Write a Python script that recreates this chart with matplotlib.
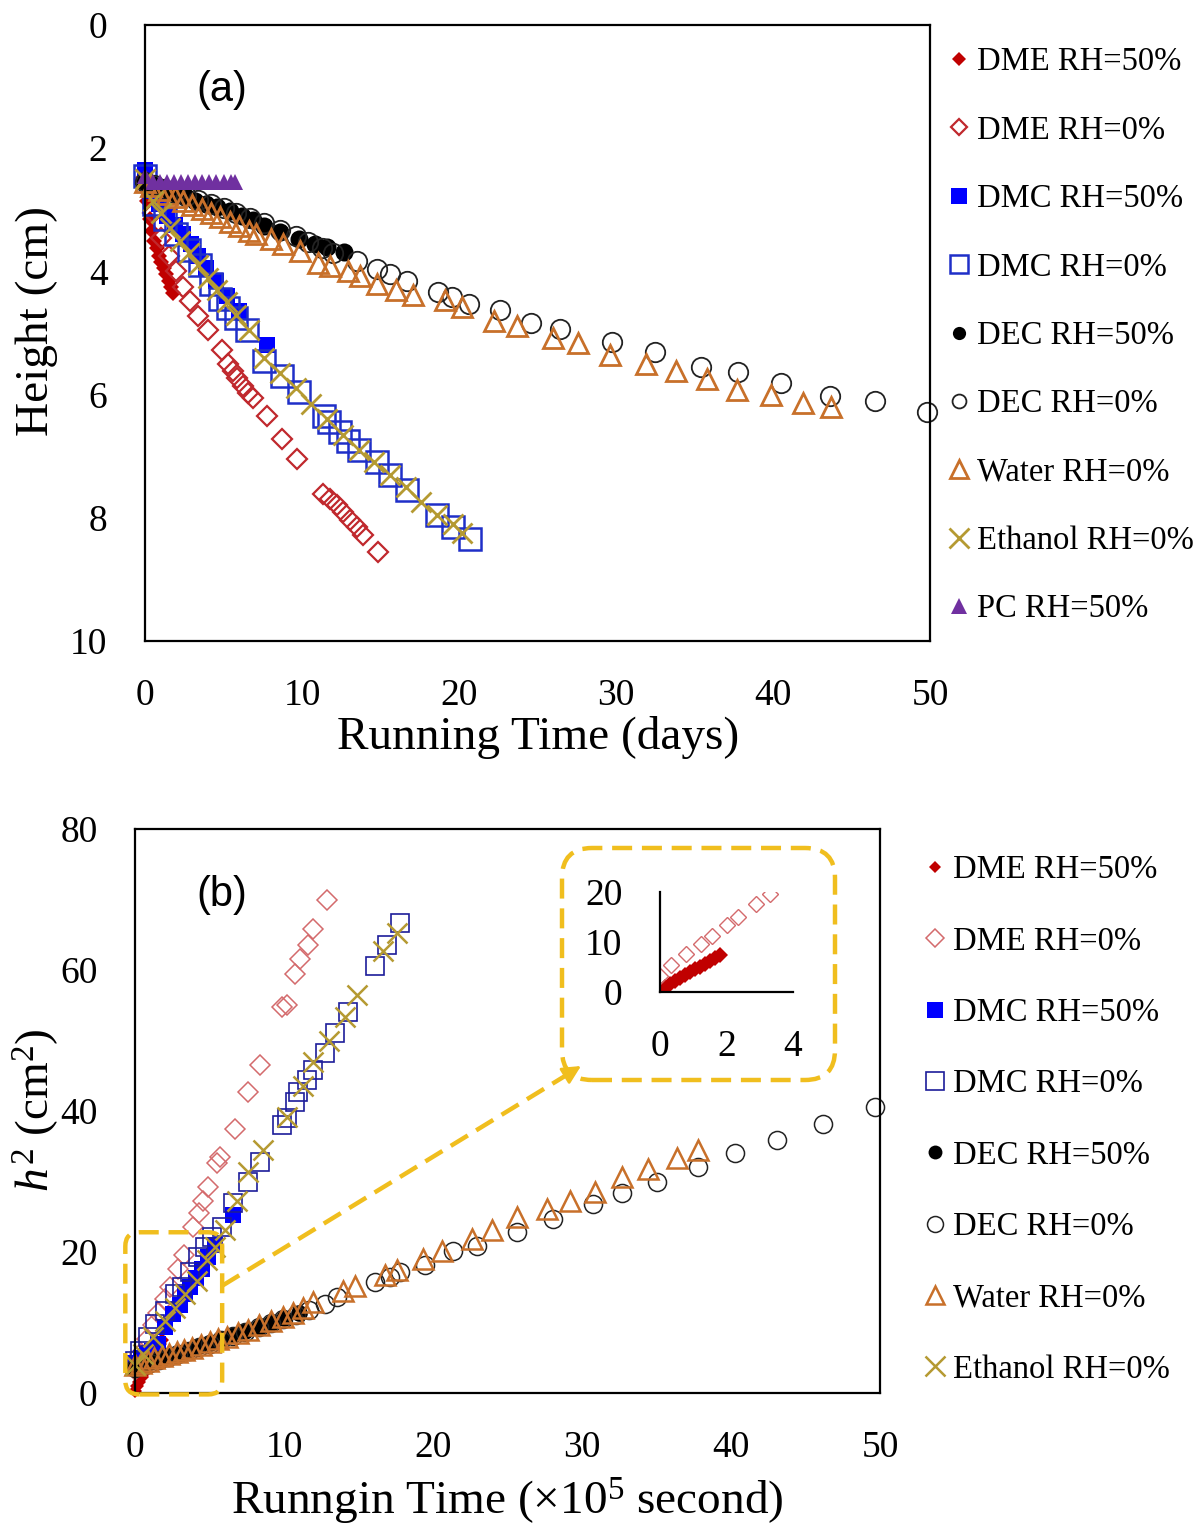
import matplotlib
matplotlib.use('Agg')
import matplotlib.pyplot as plt
from matplotlib.patches import FancyBboxPatch, FancyArrowPatch
from matplotlib.lines import Line2D
from matplotlib.transforms import IdentityTransform

plt.rcParams['font.family'] = ['Liberation Serif', 'DejaVu Serif']
plt.rcParams['mathtext.fontset'] = 'custom'
plt.rcParams['mathtext.rm'] = 'Liberation Serif'
plt.rcParams['mathtext.it'] = 'Liberation Serif:italic'

# ---------------- Panel (a): height (cm) vs running time (days) ----------------
dme50_t = [0, 0.15, 0.3, 0.45, 0.6, 0.75, 0.9, 1.05, 1.2, 1.35, 1.5, 1.65, 1.8]
dme50_h = [2.5, 2.85, 3.15, 3.35, 3.5, 3.62, 3.75, 3.85, 3.95, 4.05, 4.15, 4.25, 4.35]

dme0_t = [0, 0.5, 1.0, 1.5, 2.0, 2.4, 2.87, 3.40, 4.03, 4.88, 5.31, 5.63, 5.84, 6.26, 6.58, 6.90,
          7.75, 8.70, 9.66, 11.36, 11.78, 12.21, 12.63, 13.06, 13.48, 13.91, 14.86]
dme0_h = [2.5, 3.05, 3.45, 3.75, 4.0, 4.25, 4.48, 4.73, 4.95, 5.27, 5.51, 5.62, 5.73, 5.86, 5.97, 6.05,
          6.34, 6.72, 7.04, 7.61, 7.69, 7.80, 7.90, 8.04, 8.15, 8.28, 8.55]

dmc50_t = [0, 0.4, 0.9, 1.4, 1.9, 2.4, 2.9, 3.4, 3.9, 4.5, 5.2, 6.0, 7.8]
dmc50_h = [2.35, 2.7, 2.9, 3.1, 3.25, 3.4, 3.55, 3.75, 3.95, 4.15, 4.4, 4.65, 5.2]

dmc0_t = [0, 0.6, 1.3, 2.0, 2.8, 3.5, 4.2, 4.8, 5.3, 5.8, 6.5, 7.6, 8.7, 9.8, 11.4, 11.7, 12.4,
          12.9, 13.6, 14.8, 15.6, 16.7, 18.6, 19.6, 20.7]
dmc0_h = [2.45, 2.9, 3.15, 3.4, 3.65, 3.9, 4.2, 4.45, 4.6, 4.75, 4.95, 5.45, 5.7, 5.95, 6.35, 6.45, 6.6,
          6.75, 6.9, 7.1, 7.3, 7.55, 7.95, 8.15, 8.35]

dec50_t = [0, 0.5, 1.0, 1.5, 2.0, 2.6, 3.2, 3.9, 4.6, 5.4, 6.2, 6.9, 7.6, 8.6, 9.8, 10.8, 11.6, 12.7]
dec50_h = [2.55, 2.6, 2.65, 2.7, 2.75, 2.8, 2.85, 2.9, 2.95, 3.02, 3.1, 3.17, 3.27, 3.36, 3.47, 3.55, 3.6, 3.68]

dec0_t = [0, 0.6, 1.2, 1.9, 2.6, 3.4, 4.2, 5.0, 5.8, 6.7, 7.6, 8.6, 9.6, 10.4, 11.25, 12.0, 13.5,
          14.76, 15.6, 16.7, 18.66, 19.53, 20.63, 22.6, 24.58, 26.44, 29.73, 32.47, 35.43, 37.74,
          40.48, 43.66, 46.5, 49.8]
dec0_h = [2.55, 2.6, 2.66, 2.72, 2.78, 2.84, 2.9, 2.97, 3.05, 3.13, 3.22, 3.32, 3.42, 3.52, 3.62, 3.7, 3.83,
          3.96, 4.05, 4.16, 4.33, 4.42, 4.53, 4.63, 4.83, 4.94, 5.14, 5.31, 5.56, 5.64,
          5.81, 6.03, 6.1, 6.28]

water_t = [0, 0.4, 0.9, 1.4, 1.9, 2.4, 3.0, 3.6, 4.2, 4.8, 5.4, 6.0, 6.6, 7.1, 8.0, 8.8, 9.9, 11.0,
           11.8, 12.9, 13.7, 14.8, 16.0, 17.1, 19.1, 20.2, 22.2, 23.7, 26.0, 27.6, 29.6, 31.9, 33.8,
           35.8, 37.7, 39.9, 41.9, 43.7]
water_h = [2.55, 2.62, 2.68, 2.74, 2.8, 2.86, 2.92, 2.98, 3.05, 3.12, 3.2, 3.27, 3.34, 3.4, 3.48, 3.56,
           3.67, 3.86, 3.91, 3.99, 4.07, 4.2, 4.31, 4.38, 4.47, 4.58, 4.8, 4.89, 5.08, 5.16, 5.36, 5.5,
           5.61, 5.75, 5.92, 6.0, 6.14, 6.2]

eth_t = [0, 0.5, 1.0, 1.6, 2.2, 2.8, 3.4, 4.0, 4.6, 5.2, 5.8, 6.6, 7.6, 8.6, 9.6, 10.6, 11.6, 12.6,
         13.6, 14.6, 15.6, 16.6, 17.6, 18.6, 19.6, 20.2]
eth_h = [2.5, 2.85, 3.05, 3.3, 3.5, 3.7, 3.9, 4.1, 4.3, 4.5, 4.7, 4.95, 5.4, 5.65, 5.9, 6.15, 6.4, 6.65,
         6.9, 7.1, 7.3, 7.5, 7.75, 7.95, 8.1, 8.25]

pc_t = [0, 0.5, 0.95, 1.4, 1.85, 2.3, 2.75, 3.2, 3.65, 4.1, 4.55, 5.0, 5.45, 5.75]
pc_h = [2.45, 2.55, 2.55, 2.55, 2.55, 2.55, 2.55, 2.55, 2.55, 2.55, 2.55, 2.55, 2.55, 2.55]

# ---------------- Panel (b): h^2 (cm^2) vs running time (x10^5 s) ----------------
dme50_bx = [0, 0.15, 0.3, 0.45, 0.6, 0.75, 0.9, 1.05, 1.2, 1.35, 1.5, 1.65, 1.8]
dme50_by = [0.3, 1.0, 1.6, 2.2, 2.8, 3.4, 4.0, 4.6, 5.1, 5.7, 6.3, 6.9, 7.5]

dme0_bx = [0, 0.34, 0.78, 1.23, 1.56, 2.0, 2.35, 2.9, 3.3, 3.9, 4.3, 4.58, 4.92, 5.48, 5.7, 6.71,
           7.6, 8.39, 9.85, 10.18, 10.74, 11.07, 11.63, 11.97, 12.87]
dme0_by = [3.2, 5.5, 7.6, 9.7, 11.3, 13.4, 15.0, 17.6, 19.6, 23.5, 25.5, 27.3, 29.2, 32.6, 33.5, 37.5,
           42.7, 46.5, 54.7, 55.1, 59.4, 61.5, 63.6, 65.8, 70.0]

dmc50_bx = [0, 0.4, 0.8, 1.12, 1.56, 2.0, 2.57, 3.0, 3.36, 3.69, 4.1, 4.47, 4.92, 5.4, 6.6]
dmc50_by = [4.2, 5.0, 5.6, 6.0, 6.9, 9.3, 11.2, 12.5, 14.0, 15.0, 16.3, 17.6, 19.3, 21.0, 25.2]

dmc0_bx = [0, 0.34, 0.89, 1.34, 2.0, 2.68, 3.13, 3.69, 4.25, 4.7, 5.15, 5.82, 6.6, 7.6, 8.39, 9.85,
           10.18, 10.74, 10.96, 11.52, 11.97, 12.75, 13.42, 14.32, 16.1, 16.89, 17.79]
dmc0_by = [4.5, 6.0, 7.9, 9.8, 11.7, 14.1, 15.0, 17.1, 19.3, 20.7, 22.1, 23.5, 26.9, 29.9, 32.8, 38.0,
           39.0, 41.3, 42.7, 44.4, 45.8, 48.2, 51.1, 54.1, 60.5, 63.6, 66.7]

dec50_bx = [0, 0.5, 1.0, 1.6, 2.2, 2.9, 3.6, 4.3, 5.0, 5.8, 6.6, 7.4, 8.3, 9.1, 10.0, 11.0]
dec50_by = [3.6, 4.0, 4.4, 4.8, 5.2, 5.6, 6.1, 6.6, 7.1, 7.6, 8.2, 8.8, 9.4, 10.0, 10.7, 11.4]

dec0_bx = [0, 0.5, 1.0, 1.6, 2.2, 2.9, 3.6, 4.3, 5.0, 5.8, 6.6, 7.4, 8.3, 9.1, 9.9, 10.8, 11.7, 12.75,
           13.53, 16.1, 17.11, 17.79, 19.46, 21.36, 22.93, 25.62, 28.07, 30.76, 32.66, 35.0, 37.8,
           40.27, 43.07, 46.2, 49.66]
dec0_by = [3.5, 3.9, 4.3, 4.7, 5.1, 5.5, 6.0, 6.5, 7.0, 7.5, 8.1, 8.7, 9.3, 9.9, 10.5, 11.1, 11.8, 12.6,
           13.6, 15.7, 16.4, 17.1, 18.1, 20.2, 20.9, 22.8, 24.7, 26.8, 28.3, 29.9, 32.1,
           34.0, 35.9, 38.2, 40.6]

water_bx = [0, 0.4, 0.9, 1.3, 1.8, 2.3, 2.8, 3.3, 3.8, 4.4, 5.0, 5.6, 6.2, 6.9, 7.6, 8.3, 9.1, 9.9,
            10.6, 11.3, 11.97, 13.98, 14.77, 16.78, 17.56, 19.35, 20.58, 22.6, 23.94, 25.62, 27.63,
            29.19, 30.87, 32.66, 34.45, 36.35, 37.8]
water_by = [4.0, 4.3, 4.6, 4.9, 5.2, 5.5, 5.8, 6.1, 6.4, 6.8, 7.2, 7.6, 8.0, 8.5, 9.0, 9.6, 10.2, 10.8,
            11.4, 12.0, 12.9, 14.5, 15.2, 16.7, 17.4, 19.0, 20.2, 21.9, 23.1, 25.0, 26.1,
            27.3, 28.5, 30.6, 31.8, 33.3, 34.5]

eth_bx = [0, 0.56, 1.23, 2.0, 2.68, 3.36, 4.14, 4.81, 5.37, 6.04, 6.82, 7.6, 8.61, 10.18, 11.3, 11.97,
          13.0, 14.09, 14.88, 16.67, 17.56]
eth_by = [4.0, 5.5, 7.9, 10.2, 12.1, 14.0, 15.9, 18.8, 20.7, 23.1, 27.3, 31.4, 34.4, 39.2, 43.5, 47.0,
          50.0, 53.4, 56.5, 62.7, 65.3]

labels_a = ["DME RH=50%", "DME RH=0%", "DMC RH=50%", "DMC RH=0%", "DEC RH=50%",
            "DEC RH=0%", "Water RH=0%", "Ethanol RH=0%", "PC RH=50%"]
labels_b = labels_a[:8]

a_xticks = [0, 10, 20, 30, 40, 50]
a_yticks = [0, 2, 4, 6, 8, 10]
b_xticks = [0, 10, 20, 30, 40, 50]
b_yticks = [0, 20, 40, 60, 80]
inset_xticks = [0, 2, 4]
inset_yticks = [0, 10, 20]

# zoomed region (data units of panel b) shown in the inset
zoom_x = (-0.65, 5.85)
zoom_y = (-0.2, 22.8)

# ---------------- styles ----------------
RED = '#C00000'
RED_O = '#C0282D'
RED_O_B = '#D46A6C'
BLUE = '#0000FF'
BLUE_O = '#1F2FC8'
BLUE_O_B = '#1C1C9A'
ORANGE = '#C8702A'
OLIVE = '#B59A32'
PURPLE = '#7030A0'
GOLD = '#F0BE1E'

styles_a = [
    dict(marker='D', color=RED, ms=8.5, mew=0),
    dict(marker='D', mfc='none', mec=RED_O, ms=10, mew=1.6),
    dict(marker='s', color=BLUE, ms=12, mew=0),
    dict(marker='s', mfc='none', mec=BLUE_O, ms=16, mew=1.8),
    dict(marker='o', color='black', ms=13, mew=0),
    dict(marker='o', mfc='none', mec='#222222', ms=14, mew=1.3),
    dict(marker='^', mfc='none', mec=ORANGE, ms=15, mew=2.0),
    dict(marker='x', color=OLIVE, ms=15, mew=2.0),
    dict(marker='^', color=PURPLE, ms=12, mew=0),
]
legend_ms_a = [7, 8, 12, 13.5, 9.5, 10, 13, 14, 12]

styles_b = [
    dict(marker='D', color=RED, ms=7, mew=0),
    dict(marker='D', mfc='none', mec=RED_O_B, ms=10.5, mew=1.1),
    dict(marker='s', color=BLUE, ms=11, mew=0),
    dict(marker='s', mfc='none', mec=BLUE_O_B, ms=13, mew=1.2),
    dict(marker='o', color='black', ms=12, mew=0),
    dict(marker='o', mfc='none', mec='#222222', ms=13, mew=1.1),
    dict(marker='^', mfc='none', mec=ORANGE, ms=15, mew=1.8),
    dict(marker='x', color=OLIVE, ms=15, mew=1.8),
]
legend_ms_b = [6.5, 9, 11.5, 13, 10, 11.5, 13, 14]

W, H = 1200, 1529
fig = plt.figure(figsize=(W / 100, H / 100), dpi=100)

TICK_FS = 27
LAB_FS = 34
LEG_FS = 23.5

def style_axes(ax):
    for s in ax.spines.values():
        s.set_linewidth(1.6)
        s.set_color('black')
    ax.tick_params(length=0, labelsize=TICK_FS, pad=27)

def make_legend(handles, labels, anchor, spacing, sizes):
    leg = fig.legend(handles, labels, loc='upper left', bbox_to_anchor=anchor,
                     frameon=False, fontsize=LEG_FS, markerscale=1.0, handlelength=0.7,
                     handletextpad=0.2, labelspacing=spacing, borderpad=0, borderaxespad=0,
                     numpoints=1)
    for lh, ms in zip(leg.legend_handles, sizes):
        lh.set_markersize(ms)
    return leg

# ---------------- Panel (a) ----------------
axA = fig.add_axes([145 / W, 1 - 641 / H, 785 / W, 616 / H])
series_a = [(dme50_t, dme50_h), (dme0_t, dme0_h), (dmc50_t, dmc50_h), (dmc0_t, dmc0_h),
            (dec50_t, dec50_h), (dec0_t, dec0_h), (water_t, water_h), (eth_t, eth_h), (pc_t, pc_h)]
handles_a = []
for (x, y), st in zip(series_a, styles_a):
    ln, = axA.plot(x, y, linestyle='none', clip_on=False, **st)
    handles_a.append(ln)
axA.set_xlim(0, 50)
axA.set_ylim(10, 0)
axA.set_xticks(a_xticks)
axA.set_yticks(a_yticks)
style_axes(axA)
axA.set_xlabel("Running Time (days)", fontsize=LAB_FS)
axA.set_ylabel("Height (cm)", fontsize=LAB_FS)
axA.xaxis.set_label_coords(0.5006, -0.156)
axA.xaxis.label.set_va('center')
axA.yaxis.set_label_coords(-0.138, 0.52)
axA.yaxis.label.set_va('center')
axA.text(0.098, 0.895, "(a)", transform=axA.transAxes, fontsize=30,
         family='Liberation Sans', ha='center', va='center')

make_legend(handles_a, labels_a, (948 / W, 1 - 47 / H), 1.16, legend_ms_a)

# ---------------- Panel (b) ----------------
axB = fig.add_axes([135 / W, 1 - 1393 / H, 745 / W, 564 / H])
series_b = [(dme50_bx, dme50_by), (dme0_bx, dme0_by), (dmc50_bx, dmc50_by), (dmc0_bx, dmc0_by),
            (dec50_bx, dec50_by), (dec0_bx, dec0_by), (water_bx, water_by), (eth_bx, eth_by)]
handles_b = []
for (x, y), st in zip(series_b, styles_b):
    ln, = axB.plot(x, y, linestyle='none', clip_on=False, **st)
    handles_b.append(ln)
axB.set_xlim(0, 50)
axB.set_ylim(0, 80)
axB.set_xticks(b_xticks)
axB.set_yticks(b_yticks)
style_axes(axB)
axB.set_xlabel(r"Runngin Time (×10$^{5}$ second)", fontsize=LAB_FS)
axB.set_ylabel(r"$h^{2}$ (cm$^{2}$)", fontsize=LAB_FS)
axB.xaxis.set_label_coords(0.499, -0.193)
axB.xaxis.label.set_va('center')
axB.yaxis.set_label_coords(-0.134, 0.502)
axB.yaxis.label.set_va('center')
axB.text(0.117, 0.883, "(b)", transform=axB.transAxes, fontsize=30,
         family='Liberation Sans', ha='center', va='center')

make_legend(handles_b, labels_b, (924 / W, 1 - 855 / H), 1.25, legend_ms_b)

# ---------------- Inset ----------------
axI = fig.add_axes([660 / W, 1 - 992 / H, 133 / W, 100 / H])
axI.patch.set_alpha(0)
axI.plot(dme50_bx, dme50_by, linestyle='none', marker='D', color=RED, ms=8, mew=0)
axI.plot(dme0_bx, dme0_by, linestyle='none', marker='D', mfc='none', mec=RED_O_B, ms=8, mew=1.0)
axI.set_xlim(0, 4)
axI.set_ylim(0, 20)
axI.set_xticks(inset_xticks)
axI.set_yticks(inset_yticks)
for side in ('top', 'right'):
    axI.spines[side].set_visible(False)
for side in ('left', 'bottom'):
    axI.spines[side].set_linewidth(1.6)
axI.tick_params(length=0, labelsize=TICK_FS, pad=27)

# ---------------- zoom box, inset frame, arrow ----------------
fig.canvas.draw()
to_disp = axB.transData
(x0, y0) = to_disp.transform((zoom_x[0], zoom_y[0]))
(x1, y1) = to_disp.transform((zoom_x[1], zoom_y[1]))
dash = (0, (4.5, 2.2))
small_box = FancyBboxPatch((x0, y0), x1 - x0, y1 - y0,
                           boxstyle="round,pad=0,rounding_size=14",
                           transform=IdentityTransform(), fill=False,
                           edgecolor=GOLD, linewidth=3.2, linestyle=dash, zorder=10)
fig.patches.append(small_box)

ib = axI.get_window_extent()
bx0, by0 = ib.x0 - 98, ib.y0 - 88
bx1, by1 = ib.x1 + 42, ib.y1 + 44
big_box = FancyBboxPatch((bx0, by0), bx1 - bx0, by1 - by0,
                         boxstyle="round,pad=0,rounding_size=30",
                         transform=IdentityTransform(), fill=False,
                         edgecolor=GOLD, linewidth=3.2, linestyle=dash, zorder=10)
fig.patches.append(big_box)

# arrow from small box to inset frame
sx, sy = x1, y0 + (y1 - y0) * 0.67
ex, ey = bx0 + 19, by0 + 14
fig.lines.append(Line2D([sx, ex - 16], [sy, ey - 10], transform=IdentityTransform(),
                        color=GOLD, linewidth=3.2, linestyle=dash, zorder=10))
head = FancyArrowPatch((ex - 22, ey - 13.5), (ex, ey), transform=IdentityTransform(),
                       arrowstyle='-|>', mutation_scale=28, color=GOLD, linewidth=2,
                       shrinkA=0, shrinkB=0, zorder=11)
fig.patches.append(head)

fig.savefig("out.png", dpi=100)
